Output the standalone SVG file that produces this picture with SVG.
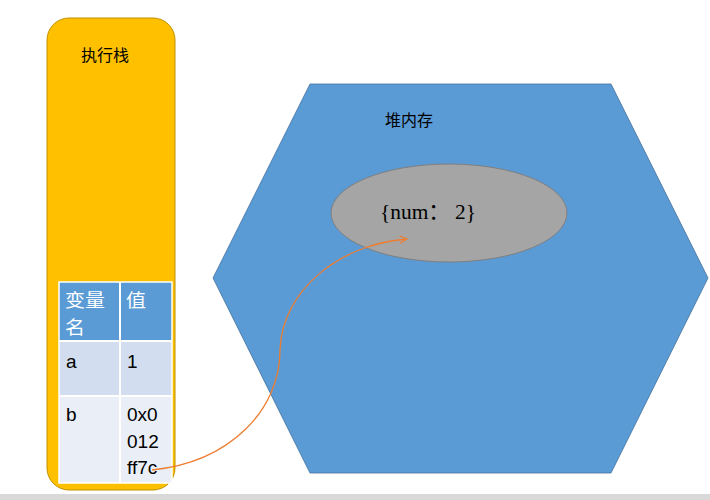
<svg xmlns="http://www.w3.org/2000/svg" width="710" height="500" viewBox="0 0 710 500">
<style>
.cjk{font-family:"Liberation Serif","Noto Sans CJK SC",serif;fill:#000}
.hd{font-family:"Noto Sans CJK SC",sans-serif;font-size:18px;fill:#fff}
.cell{font-family:"Liberation Sans","Noto Sans",sans-serif;font-size:19px;fill:#000}
.grid{stroke:#fff;stroke-width:2}
</style>
<defs>
<marker id="arr" viewBox="0 0 10 10" refX="9" refY="5" markerWidth="9" markerHeight="9" markerUnits="userSpaceOnUse" orient="auto">
<path d="M1,1 L9,5 L1,9" fill="none" stroke="#ED7D31" stroke-width="1.3"/>
</marker>
</defs>
<rect x="0" y="0" width="710" height="500" fill="#fff"/>
<rect x="0" y="494" width="710" height="6" fill="#D9D9D9"/>
<g id="stack">
<rect x="47" y="18" width="128" height="472" rx="22" ry="22" fill="#FFC000" stroke="#BF9000" stroke-width="1"/>
<text class="cjk" x="81" y="61" font-size="16">执行栈</text>
</g>
<g id="table">
<rect x="59" y="282" width="113" height="59" fill="#5B9BD5"/>
<rect x="59" y="341" width="113" height="55" fill="#D2DEEF"/>
<rect x="59" y="396" width="113" height="87" fill="#EAEFF7"/>
<line class="grid" x1="120" y1="282" x2="120" y2="483"/>
<line class="grid" x1="59" y1="341" x2="172" y2="341"/>
<line class="grid" x1="59" y1="396" x2="172" y2="396"/>
<rect x="59" y="282" width="113" height="201" fill="none" stroke="#fff" stroke-width="1.5"/>
<text class="hd" x="65" y="307" textLength="40" lengthAdjust="spacingAndGlyphs">变量</text>
<text class="hd" x="65" y="334" textLength="20" lengthAdjust="spacingAndGlyphs">名</text>
<text class="hd" x="126" y="307" textLength="20" lengthAdjust="spacingAndGlyphs">值</text>
<text class="cell" x="66" y="368">a</text>
<text class="cell" x="127" y="368">1</text>
<text class="cell" x="66" y="421">b</text>
<text class="cell" x="127" y="421">0x0</text>
<text class="cell" x="127" y="448">012</text>
<text class="cell" x="127" y="474">ff7c</text>
</g>
<g id="heap">
<polygon points="310,84 611,84 708,278 611,473 310,473 213,278" fill="#5B9BD5" stroke="#41719C" stroke-width="0.8"/>
<text class="cjk" x="385" y="126" font-size="16">堆内存</text>
</g>
<g id="object">
<ellipse cx="449" cy="213" rx="118" ry="49" fill="#A5A5A5" stroke="#7F7F7F" stroke-width="1"/>
<text class="cjk" x="380" y="219" font-size="22" textLength="96" lengthAdjust="spacingAndGlyphs">{num： 2}</text>
</g>
<g id="connectors">
<path d="M152,470 C230,462 280,410 280,350 C282,290 340,244 407,239" fill="none" stroke="#ED7D31" stroke-width="1.3" marker-end="url(#arr)"/>
</g>
</svg>
